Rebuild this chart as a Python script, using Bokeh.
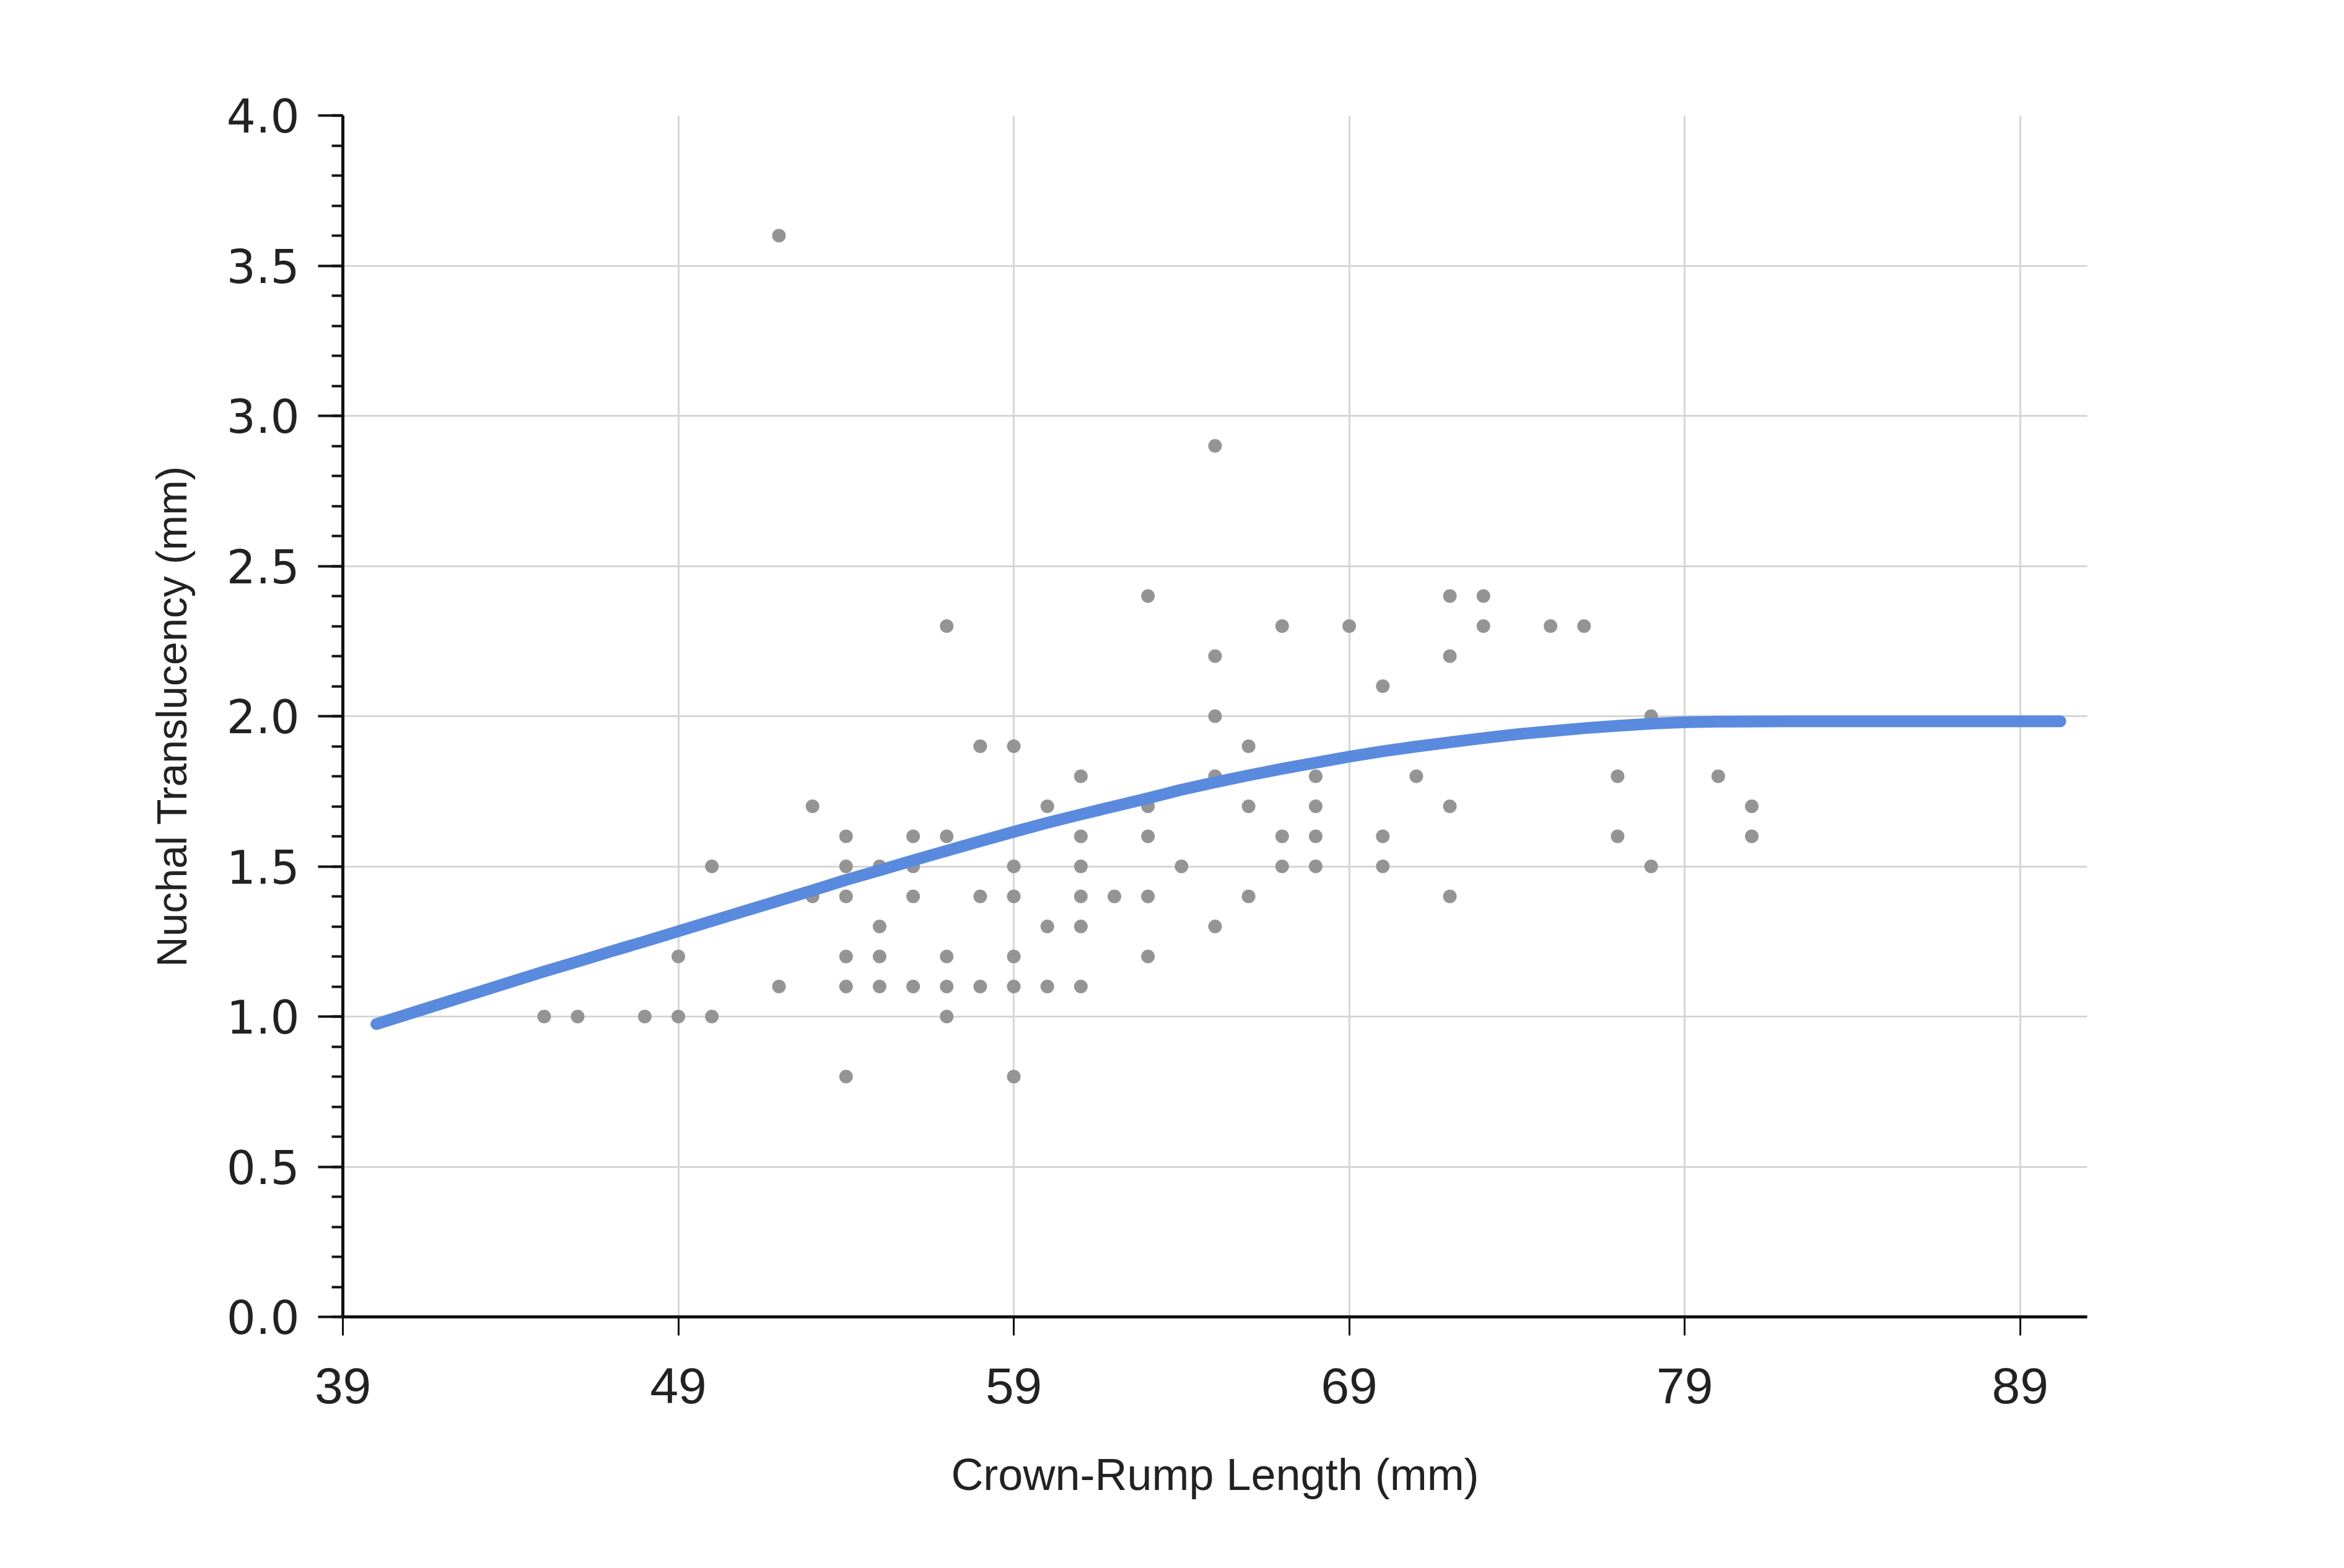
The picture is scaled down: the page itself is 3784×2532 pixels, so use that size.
from bokeh.plotting import figure
from bokeh.models import FixedTicker, Range1d, PrintfTickFormatter
from bokeh.embed import file_html
from bokeh.resources import INLINE

# Scatter data: Crown-Rump Length (mm) vs Nuchal Translucency (mm)
crl_mm = [54, 59,
          45, 46, 48, 49, 50, 57,
          52, 54, 55, 56, 57, 58, 59, 60, 61,
          49, 54, 55, 57, 59, 63,
          55, 60, 61, 65,
          53, 54, 56, 58, 59, 61, 62, 63, 66, 72,
          50, 54, 55, 56, 59, 61, 64, 67, 68, 70, 78,
          54, 56, 57, 61, 63, 67, 68, 70, 77, 81,
          53, 60, 63, 66, 68, 72, 81,
          61, 65, 68, 71, 77, 80,
          58, 59, 66,
          65, 78,
          70,
          65, 72,
          57, 67, 69, 73, 75, 76,
          63, 72, 73,
          65,
          52]
nt_mm = [0.8, 0.8,
         1.0, 1.0, 1.0, 1.0, 1.0, 1.0,
         1.1, 1.1, 1.1, 1.1, 1.1, 1.1, 1.1, 1.1, 1.1,
         1.2, 1.2, 1.2, 1.2, 1.2, 1.2,
         1.3, 1.3, 1.3, 1.3,
         1.4, 1.4, 1.4, 1.4, 1.4, 1.4, 1.4, 1.4, 1.4, 1.4,
         1.5, 1.5, 1.5, 1.5, 1.5, 1.5, 1.5, 1.5, 1.5, 1.5, 1.5,
         1.6, 1.6, 1.6, 1.6, 1.6, 1.6, 1.6, 1.6, 1.6, 1.6,
         1.7, 1.7, 1.7, 1.7, 1.7, 1.7, 1.7,
         1.8, 1.8, 1.8, 1.8, 1.8, 1.8,
         1.9, 1.9, 1.9,
         2.0, 2.0,
         2.1,
         2.2, 2.2,
         2.3, 2.3, 2.3, 2.3, 2.3, 2.3,
         2.4, 2.4, 2.4,
         2.9,
         3.6]

# Fitted curve
fit_crl = [40, 41, 42, 43, 44, 45, 46, 47, 48, 49, 50, 51, 52, 53, 54, 55, 56, 57,
           58, 59, 60, 61, 62, 63, 64, 65, 66, 67, 68, 69, 70, 71, 72, 73, 74, 75,
           76, 77, 78, 79, 80, 82, 84, 86, 88, 90.2]
fit_nt = [0.975, 1.010, 1.045, 1.080, 1.115, 1.150, 1.183, 1.217, 1.250, 1.284,
          1.318, 1.352, 1.386, 1.420, 1.455, 1.487, 1.520, 1.552, 1.584, 1.615,
          1.645, 1.673, 1.700, 1.727, 1.755, 1.780, 1.803, 1.825, 1.845, 1.865,
          1.883, 1.899, 1.913, 1.927, 1.940, 1.950, 1.960, 1.968, 1.975, 1.980,
          1.982, 1.983, 1.983, 1.983, 1.983, 1.983]

x_ticks = [39, 49, 59, 69, 79, 89]
y_ticks = [0.0, 0.5, 1.0, 1.5, 2.0, 2.5, 3.0, 3.5, 4.0]
y_minor = [0.0, 0.1, 0.2, 0.3, 0.4, 0.5, 0.6, 0.7, 0.8, 0.9, 1.0, 1.1, 1.2, 1.3,
           1.4, 1.5, 1.6, 1.7, 1.8, 1.9, 2.0, 2.1, 2.2, 2.3, 2.4, 2.5, 2.6, 2.7,
           2.8, 2.9, 3.0, 3.1, 3.2, 3.3, 3.4, 3.5, 3.6, 3.7, 3.8, 3.9, 4.0]

p = figure(width=3768, height=2516, output_backend="svg", toolbar_location=None,
           x_range=Range1d(39, 91), y_range=Range1d(0, 4),
           min_border_left=553, min_border_right=399,
           min_border_top=186, min_border_bottom=390)
p.outline_line_color = None
p.background_fill_color = "white"
p.border_fill_color = "white"

xt = FixedTicker(ticks=x_ticks)
yt = FixedTicker(ticks=y_ticks, minor_ticks=y_minor)
p.xaxis.ticker = xt
p.yaxis.ticker = yt
p.xgrid.ticker = xt
p.ygrid.ticker = FixedTicker(ticks=y_ticks)
for g in (p.xgrid, p.ygrid):
    g.grid_line_color = "#d6d6d6"
    g.grid_line_width = 3

p.yaxis.formatter = PrintfTickFormatter(format="%.1f")

# axes styling
for ax in (p.xaxis, p.yaxis):
    ax.axis_line_color = "#111111"
    ax.axis_line_width = 5
    ax.major_tick_line_color = "#111111"
    ax.major_tick_in = 0
    ax.minor_tick_in = 0
    ax.major_label_text_color = "#222222"
    ax.axis_label_text_color = "#222222"
    ax.axis_label_text_font_style = "normal"

p.xaxis.major_tick_out = 30
p.xaxis.major_tick_line_width = 3
p.xaxis.minor_tick_line_color = None
p.xaxis.major_label_text_font = "Liberation Sans"
p.xaxis.major_label_text_font_size = "82px"
p.xaxis.major_label_standoff = 52
p.xaxis.axis_label = "Crown-Rump Length (mm)"
p.xaxis.axis_label_text_font = "Liberation Sans"
p.xaxis.axis_label_text_font_size = "72px"
p.xaxis.axis_label_standoff = 72

p.yaxis.major_tick_out = 40
p.yaxis.minor_tick_out = 18
p.yaxis.major_tick_line_width = 4
p.yaxis.minor_tick_line_color = "#111111"
p.yaxis.minor_tick_line_width = 4
p.yaxis.major_label_text_font = "DejaVu Sans"
p.yaxis.major_label_text_font_size = "74px"
p.yaxis.major_label_standoff = 30
p.yaxis.axis_label = "Nuchal Translucency (mm)"
p.yaxis.axis_label_text_font = "Liberation Sans"
p.yaxis.axis_label_text_font_size = "68px"
p.yaxis.axis_label_standoff = 48

p.scatter(crl_mm, nt_mm, size=22, color="#949494", line_color=None)
p.line(fit_crl, fit_nt, line_color="#5a8ade", line_width=19, line_cap="round",
       line_join="round")

open("out.html", "w").write(file_html(p, INLINE))
